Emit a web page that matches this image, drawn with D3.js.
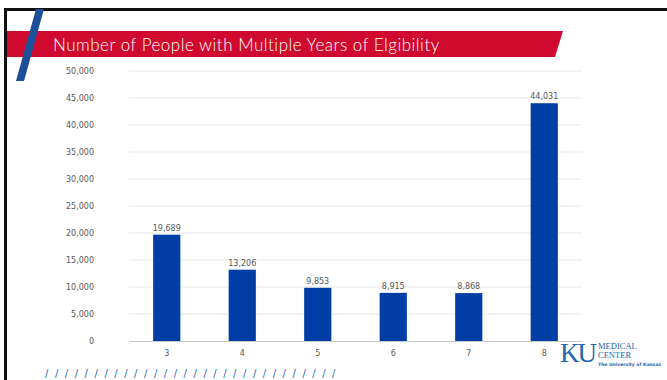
<!DOCTYPE html>
<html>
<head>
<meta charset="utf-8">
<script src="https://cdn.jsdelivr.net/npm/d3@7"></script>
<style>
  html, body { margin: 0; padding: 0; background: #ffffff; }
  svg { display: block; }
</style>
</head>
<body>
<svg id="chart" width="667" height="380"></svg>
<script>
// Number of people by years of eligibility
const years = ["3", "4", "5", "6", "7", "8"];
const people = [19689, 13206, 9853, 8915, 8868, 44031];
const yTicks = [0, 5000, 10000, 15000, 20000, 25000, 30000, 35000, 40000, 45000, 50000];
const title = "Number of People with Multiple Years of Elgibility";

const svg = d3.select("#chart");
const W = 667, H = 380;

// Slide frame: black top and left rules
svg.append("rect").attr("x", 4).attr("y", 8).attr("width", W - 4).attr("height", 3).attr("fill", "#111");
svg.append("rect").attr("x", 4).attr("y", 8).attr("width", 3).attr("height", H - 8).attr("fill", "#111");

// Red title banner with slanted right edge
svg.append("path")
  .attr("d", "M7,31 L563,31 L555,57 L7,57 Z")
  .attr("fill", "#d00a2e");

// Blue accent stroke crossing the banner
svg.append("path")
  .attr("d", "M36,9 L44,9 L24,81 L16,81 Z")
  .attr("fill", "#1c4f97");

svg.append("text")
  .attr("x", 53).attr("y", 51)
  .attr("fill", "#ffffff")
  .attr("font-family", "Lato, 'DejaVu Sans', sans-serif")
  .attr("font-weight", 300)
  .attr("font-size", 17)
  .attr("letter-spacing", 0.5)
  .text(title);

// Plot area
const x = d3.scaleBand().domain(years).range([129, 582]).paddingInner(0.64).paddingOuter(0.32);
const y = d3.scaleLinear().domain([0, 50000]).range([341, 71]);

const fmt = d3.format(",");
const labelFont = "'DejaVu Sans', sans-serif";
const grey = "#595959";

// Horizontal gridlines
svg.append("g")
  .selectAll("line")
  .data(yTicks.filter(d => d > 0))
  .join("line")
  .attr("x1", 129).attr("x2", 582)
  .attr("y1", d => y(d)).attr("y2", d => y(d))
  .attr("stroke", "#e9e9e9").attr("stroke-width", 1);

// Y axis (labels only)
const yAxis = svg.append("g")
  .attr("transform", "translate(129,0)")
  .call(d3.axisLeft(y).tickValues(yTicks).tickFormat(fmt).tickSize(0).tickPadding(35));
yAxis.select(".domain").remove();
yAxis.selectAll("text")
  .attr("fill", grey).attr("font-family", labelFont).attr("font-size", 8);

// Bars
svg.append("g")
  .selectAll("rect")
  .data(years)
  .join("rect")
  .attr("x", d => x(d))
  .attr("y", (d, i) => y(people[i]))
  .attr("width", x.bandwidth())
  .attr("height", (d, i) => y(0) - y(people[i]))
  .attr("fill", "#003da5");

// Value labels
svg.append("g")
  .selectAll("text")
  .data(years)
  .join("text")
  .attr("x", d => x(d) + x.bandwidth() / 2)
  .attr("y", (d, i) => y(people[i]) - 4)
  .attr("text-anchor", "middle")
  .attr("fill", grey).attr("font-family", labelFont).attr("font-size", 8)
  .text((d, i) => fmt(people[i]));

// X axis
const xAxis = svg.append("g")
  .attr("transform", `translate(0,${y(0)})`)
  .call(d3.axisBottom(x).tickSize(0).tickPadding(9));
xAxis.select(".domain").attr("stroke", "#c8c8c8").attr("d", "M129,0.5H582");
xAxis.selectAll("text")
  .attr("fill", grey).attr("font-family", labelFont).attr("font-size", 8);

// Decorative slash row along the footer
svg.append("g")
  .attr("fill", "#2f63c0")
  .attr("font-family", "'DejaVu Sans', sans-serif")
  .attr("font-size", 10)
  .selectAll("text")
  .data(d3.range(30))
  .join("text")
  .attr("x", i => 45 + i * 9.9)
  .attr("y", 377)
  .text("/");

// KU Medical Center logo
const logo = svg.append("g").attr("fill", "#2466b0").attr("font-family", "'Liberation Serif', serif");
logo.append("text").attr("x", 560).attr("y", 362).attr("font-size", 27).attr("letter-spacing", -2).text("KU");
logo.append("text").attr("x", 598).attr("y", 349).attr("font-size", 8.5).text("MEDICAL");
logo.append("text").attr("x", 598).attr("y", 358).attr("font-size", 8.5).text("CENTER");
logo.append("text").attr("x", 598).attr("y", 366).attr("font-size", 4.5).attr("font-weight", "bold")
  .attr("font-family", "'DejaVu Sans', sans-serif").text("The University of Kansas");
</script>
</body>
</html>
